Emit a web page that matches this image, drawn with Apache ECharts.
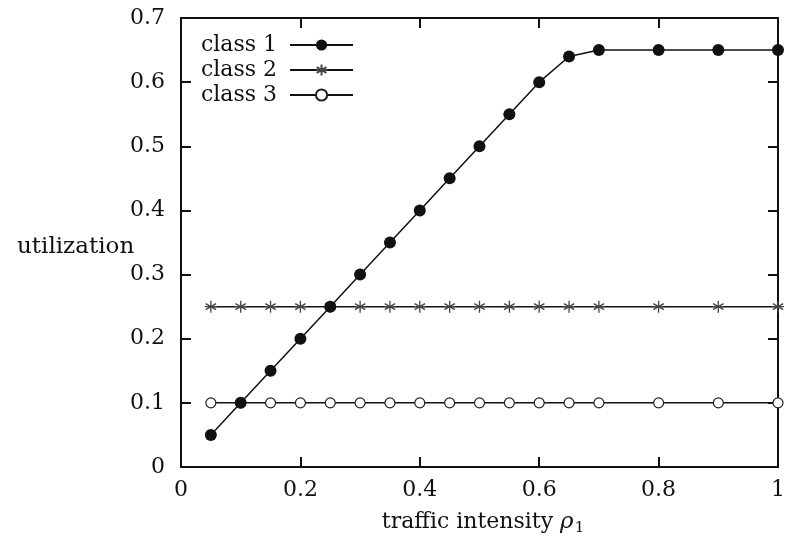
<!DOCTYPE html>
<html>
<head>
<meta charset="utf-8">
<script src="https://cdn.jsdelivr.net/npm/echarts@6/dist/echarts.min.js"></script>
<style>
  html, body { margin: 0; padding: 0; background: #fff; }
  #chart { width: 785px; height: 547px; }
</style>
</head>
<body>
<div id="chart"></div>
<script>
const rho = [0.05, 0.1, 0.15, 0.2, 0.25, 0.3, 0.35, 0.4, 0.45, 0.5, 0.55, 0.6, 0.65, 0.7, 0.8, 0.9, 1.0];
const class1 = [0.05, 0.1, 0.15, 0.2, 0.25, 0.3, 0.35, 0.4, 0.45, 0.5, 0.55, 0.6, 0.64, 0.65, 0.65, 0.65, 0.65];
const class2 = [0.25, 0.25, 0.25, 0.25, 0.25, 0.25, 0.25, 0.25, 0.25, 0.25, 0.25, 0.25, 0.25, 0.25, 0.25, 0.25, 0.25];
const class3 = [0.1, 0.1, 0.1, 0.1, 0.1, 0.1, 0.1, 0.1, 0.1, 0.1, 0.1, 0.1, 0.1, 0.1, 0.1, 0.1, 0.1];
const xTicks = ["0", "0.2", "0.4", "0.6", "0.8", "1"];
const yTicks = ["0", "0.1", "0.2", "0.3", "0.4", "0.5", "0.6", "0.7"];

const font = "'DejaVu Serif', 'Liberation Serif', serif";
const pairs = ys => rho.map((x, i) => [x, ys[i]]);
const star = "path://M0,-10L0,10M-8.66,-5L8.66,5M-8.66,5L8.66,-5M-10,0L10,0";

const chart = echarts.init(document.getElementById("chart"));

function axisStyle(extra) {
  return Object.assign({
    type: "value",
    axisLine: { show: true, onZero: false, lineStyle: { color: "#111", width: 2 } },
    axisTick: { show: true, inside: true, length: 10, lineStyle: { color: "#111", width: 2 } },
    splitLine: { show: false },
  }, extra);
}

chart.setOption({
  animation: false,
  grid: { left: 181, right: 7, top: 18, bottom: 80, outerBoundsMode: "none" },
  title: [
    { text: "utilization", left: 12, top: 231, textStyle: { fontFamily: font, fontSize: 23, fontWeight: "normal", color: "#111" } },
    {
      text: "{a|traffic intensity }{r|ρ}{s|1}",
      left: 478, top: 504, textAlign: "center",
      textStyle: {
        fontWeight: "normal",
        rich: {
          a: { fontFamily: font, fontSize: 22, fontWeight: "normal", color: "#111" },
          r: { fontFamily: font, fontSize: 23, fontStyle: "italic", fontWeight: "normal", color: "#111" },
          s: { fontFamily: font, fontSize: 15, fontWeight: "normal", color: "#111", padding: [12, 0, 0, 1] },
        },
      },
    },
  ],
  legend: {
    left: 196, top: 29, orient: "vertical", align: "right",
    itemWidth: 63, itemHeight: 14, itemGap: 3,
    textStyle: { fontFamily: font, fontSize: 22, lineHeight: 22, color: "#111", padding: [0, 8, 0, 0] },
    data: ["class 1", "class 2", "class 3"],
  },
  xAxis: [
    axisStyle({
      min: 0, max: 1, interval: 0.2, position: "bottom",
      axisLabel: { fontFamily: font, fontSize: 22, color: "#111", margin: 12,
        formatter: v => xTicks[Math.round(v * 5)] },
    }),
    axisStyle({ min: 0, max: 1, interval: 0.2, position: "top", axisLabel: { show: false } }),
  ],
  yAxis: [
    axisStyle({
      min: 0, max: 0.7, interval: 0.1, position: "left",
      axisLabel: { fontFamily: font, fontSize: 22, color: "#111", margin: 16,
        formatter: v => yTicks[Math.round(v * 10)] },
    }),
    axisStyle({ min: 0, max: 0.7, interval: 0.1, position: "right", axisLabel: { show: false } }),
  ],
  series: [
    {
      name: "class 1", type: "line", data: pairs(class1),
      symbol: "circle", symbolSize: 12,
      lineStyle: { color: "#111", width: 1.5 },
      itemStyle: { color: "#111" },
      z: 4,
    },
    {
      name: "class 2", type: "line", data: pairs(class2),
      symbol: star, symbolSize: 12,
      lineStyle: { color: "#111", width: 1.5 },
      itemStyle: { color: "transparent", borderColor: "#444", borderWidth: 1.3 },
      z: 3,
    },
    {
      name: "class 3", type: "line", data: pairs(class3),
      symbol: "circle", symbolSize: 10,
      lineStyle: { color: "#111", width: 1.5 },
      itemStyle: { color: "#fff", borderColor: "#222", borderWidth: 1.2 },
      z: 3,
    },
  ],
});
</script>
</body>
</html>
